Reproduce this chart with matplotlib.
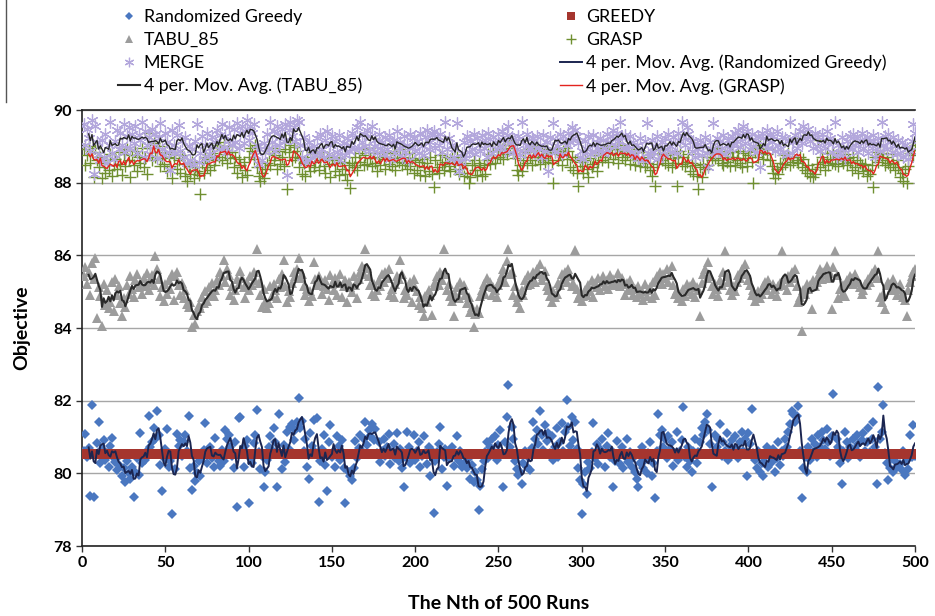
"""Objective values over 500 runs for five heuristics with 4-period moving averages."""

import matplotlib

matplotlib.use("Agg")
import matplotlib.pyplot as plt
import numpy as np
from matplotlib.lines import Line2D

plt.rcParams["font.family"] = ["Lato", "DejaVu Sans"]

runs = np.arange(1, 501)
greedy_value = 80.52
ma_period = 4

randomized_greedy = [
    80.62, 81.08, 80.45, 80.71, 79.38, 81.88, 79.35, 80.52, 80.84, 81.42,
    80.28, 80.66, 80.91, 80.37, 80.55, 80.18, 80.74, 80.96, 80.42, 80.31,
    80.08, 80.47, 80.21, 79.92, 80.15, 79.76, 80.33, 80.02, 79.85, 80.18,
    79.35, 80.05, 80.41, 79.95, 81.12, 80.28, 80.51, 80.36, 80.62, 81.58,
    80.72, 80.85, 81.25, 80.94, 81.72, 81.05, 80.23, 79.52, 80.41, 80.66,
    81.22, 80.18, 80.35, 78.88, 80.51, 80.12, 81.08, 80.74, 80.92, 80.48,
    80.85, 81.05, 80.62, 81.58, 80.15, 79.55, 80.21, 79.78, 80.02, 80.34,
    79.92, 80.45, 80.63, 81.38, 80.28, 80.55, 80.72, 80.41, 80.18, 80.97,
    80.52, 80.35, 80.21, 80.64, 80.33, 81.18, 80.94, 81.05, 80.72, 80.48,
    80.15, 80.85, 79.08, 81.52, 81.55, 80.62, 80.18, 80.75, 80.92, 79.18,
    80.41, 80.28, 80.83, 81.05, 81.75, 80.58, 80.11, 80.47, 79.62, 80.05,
    80.38, 80.72, 81.02, 80.65, 81.24, 80.85, 79.62, 81.62, 80.55, 80.12,
    80.78, 80.32, 81.15, 80.68, 81.28, 81.35, 80.92, 81.18, 81.42, 82.08,
    81.25, 81.45, 80.62, 80.95, 80.18, 79.85, 81.12, 80.74, 81.48, 80.58,
    81.52, 79.22, 80.35, 80.68, 81.05, 80.22, 79.52, 80.85, 81.32, 80.44,
    80.61, 80.18, 81.02, 80.75, 80.36, 80.92, 80.15, 79.18, 80.52, 80.05,
    79.92, 79.82, 80.15, 80.88, 80.42, 80.71, 81.05, 80.62, 80.95, 81.42,
    80.78, 81.18, 81.02, 81.35, 80.92, 81.22, 80.55, 80.85, 80.32, 80.61,
    80.95, 80.48, 80.72, 81.08, 80.25, 80.58, 80.82, 80.41, 81.12, 80.35,
    80.68, 80.15, 79.62, 80.45, 81.15, 80.72, 80.28, 80.55, 81.05, 80.38,
    80.62, 80.85, 80.18, 80.48, 81.02, 80.55, 80.25, 80.72, 79.92, 80.61,
    78.92, 80.35, 80.58, 80.82, 81.28, 80.12, 80.45, 80.68, 79.65, 80.42,
    80.55, 80.72, 80.21, 80.48, 81.02, 80.35, 80.62, 80.18, 80.51, 80.28,
    80.15, 80.41, 79.85, 80.22, 79.75, 80.05, 79.82, 78.98, 79.65, 80.12,
    80.35, 80.58, 80.85, 80.42, 80.72, 80.95, 80.61, 81.02, 80.38, 80.78,
    81.18, 80.52, 79.62, 80.85, 81.55, 82.42, 80.72, 81.28, 80.95, 80.35,
    80.12, 79.95, 80.05, 79.72, 80.28, 80.62, 80.18, 80.45, 80.08, 80.71,
    81.42, 80.95, 81.18, 80.82, 81.72, 81.05, 80.65, 81.32, 80.88, 81.12,
    80.55, 81.02, 80.38, 80.72, 81.25, 80.45, 80.85, 81.38, 80.62, 81.15,
    82.02, 81.28, 80.75, 81.55, 80.92, 81.42, 80.68, 80.15, 79.82, 78.88,
    79.72, 80.05, 79.42, 80.32, 80.15, 80.58, 81.38, 80.42, 80.82, 80.25,
    80.68, 80.95, 80.52, 80.18, 80.75, 81.12, 80.45, 80.62, 79.62, 80.35,
    80.88, 80.52, 80.25, 80.72, 80.15, 80.48, 80.95, 80.32, 80.58, 80.18,
    80.42, 80.05, 79.85, 79.62, 80.28, 80.72, 80.15, 80.38, 80.02, 80.55,
    80.85, 79.92, 80.28, 79.32, 80.62, 81.62, 81.05, 81.18, 80.72, 80.95,
    80.42, 81.02, 80.68, 80.85, 80.21, 80.55, 81.15, 80.38, 80.62, 80.92,
    81.82, 80.45, 80.18, 80.72, 80.35, 80.05, 80.62, 80.95, 80.28, 80.58,
    80.85, 81.25, 81.05, 81.42, 81.62, 81.18, 80.82, 79.62, 80.55, 81.05,
    80.72, 80.95, 81.35, 80.48, 80.85, 80.62, 81.12, 80.38, 80.75, 80.92,
    80.55, 81.02, 80.68, 80.42, 80.85, 81.15, 80.62, 80.95, 79.92, 81.12,
    80.82, 81.78, 80.55, 80.38, 80.15, 80.62, 80.05, 80.28, 79.92, 80.45,
    80.72, 80.18, 80.55, 80.32, 80.68, 80.05, 80.42, 80.85, 80.22, 80.62,
    80.48, 80.95, 80.72, 81.15, 81.35, 81.72, 81.62, 81.42, 81.58, 81.85,
    80.62, 79.32, 80.15, 80.45, 80.05, 80.72, 80.38, 80.95, 80.58, 80.82,
    80.45, 81.05, 80.72, 81.15, 80.92, 80.68, 81.22, 80.85, 80.48, 81.02,
    82.18, 80.55, 80.95, 80.72, 80.28, 79.72, 80.62, 81.15, 80.85, 80.42,
    80.72, 80.55, 80.95, 80.68, 81.05, 80.82, 80.45, 80.92, 81.12, 80.62,
    80.85, 81.25, 80.58, 80.95, 81.42, 80.72, 79.72, 82.38, 80.95, 81.15,
    81.88, 80.55, 80.28, 79.82, 80.15, 80.42, 80.05, 80.35, 80.18, 80.52,
    80.25, 80.08, 80.62, 79.95, 80.38, 80.12, 81.05, 80.45, 81.32, 80.48,
]

tabu_85 = [
    85.42, 85.68, 85.21, 85.55, 84.92, 85.78, 85.35, 85.92, 84.28, 85.12,
    84.88, 84.05, 85.22, 84.62, 85.05, 84.55, 84.72, 85.28, 84.48, 85.35,
    84.92, 85.15, 84.68, 84.32, 84.82, 84.58, 85.18, 84.95, 85.42, 85.08,
    84.85, 85.32, 85.48, 85.12, 85.25, 84.95, 85.38, 85.15, 85.52, 85.05,
    85.28, 85.45, 85.18, 85.98, 85.62, 85.35, 84.88, 85.12, 84.75, 85.22,
    84.95, 85.32, 85.08, 85.48, 84.78, 85.42, 85.55, 85.18, 84.92, 85.25,
    84.82, 85.05, 84.65, 84.58, 84.72, 84.02, 84.35, 84.12, 84.48, 84.62,
    84.55, 84.85, 84.68, 85.02, 84.75, 85.12, 84.92, 85.25, 84.88, 85.05,
    85.32, 85.18, 85.55, 85.42, 85.88, 85.28, 85.62, 85.45, 84.92, 85.15,
    84.78, 85.05, 85.35, 85.22, 85.58, 85.38, 85.12, 84.82, 85.28, 85.05,
    85.42, 85.18, 85.55, 85.32, 86.18, 85.25, 84.92, 84.58, 85.08, 84.72,
    84.55, 84.68, 85.15, 84.88, 85.22, 85.05, 84.82, 85.35, 85.12, 85.48,
    85.88, 85.15, 84.72, 85.02, 84.85, 85.25, 85.55, 85.42, 85.62, 85.92,
    85.38, 85.48, 85.15, 84.92, 85.08, 84.75, 85.02, 84.88, 85.82, 85.35,
    85.18, 85.42, 85.28, 84.95, 85.15, 85.32, 85.08, 84.78, 85.45, 85.22,
    85.05, 85.38, 84.92, 85.25, 85.48, 84.85, 85.15, 85.32, 84.72, 85.28,
    85.12, 84.98, 85.42, 85.18, 84.82, 85.35, 85.55, 85.72, 85.48, 86.18,
    85.65, 85.42, 85.18, 84.95, 85.22, 84.88, 85.05, 85.32, 85.15, 85.48,
    85.28, 85.55, 85.38, 85.62, 84.92, 85.08, 84.85, 85.22, 85.42, 85.35,
    85.88, 85.48, 84.82, 85.05, 84.92, 85.18, 85.28, 84.72, 85.35, 85.12,
    85.02, 84.62, 84.85, 84.55, 84.32, 84.88, 84.72, 85.05, 84.92, 84.35,
    85.15, 85.28, 85.42, 85.18, 85.55, 85.32, 86.18, 85.48, 85.05, 85.22,
    84.88, 84.75, 84.32, 84.95, 85.12, 84.82, 85.28, 85.05, 85.18, 84.92,
    84.68, 84.85, 84.45, 84.58, 84.02, 84.38, 84.52, 84.42, 84.88, 85.05,
    85.22, 84.95, 85.38, 85.15, 85.28, 84.92, 85.12, 85.05, 84.85, 85.18,
    85.32, 85.45, 85.62, 85.28, 85.85, 86.18, 85.48, 85.55, 84.92, 85.15,
    84.72, 84.85, 84.55, 85.05, 84.92, 85.32, 85.18, 85.45, 85.22, 85.38,
    85.55, 85.28, 85.62, 85.48, 85.75, 85.32, 85.42, 85.58, 85.15, 85.05,
    84.88, 84.72, 85.02, 84.85, 84.95, 85.25, 85.18, 85.48, 85.35, 85.55,
    85.28, 85.62, 85.42, 85.15, 85.25, 86.15, 85.08, 84.82, 84.95, 84.75,
    84.88, 85.05, 84.92, 85.18, 85.02, 85.32, 84.85, 85.25, 85.12, 85.38,
    85.05, 85.28, 85.42, 85.15, 85.32, 85.08, 85.45, 85.22, 85.35, 85.18,
    85.28, 85.52, 85.15, 85.38, 85.22, 84.92, 85.25, 85.05, 85.32, 85.12,
    84.92, 85.08, 84.85, 85.15, 84.95, 85.02, 84.78, 85.22, 84.88, 85.05,
    85.12, 84.82, 85.28, 84.92, 85.42, 85.35, 85.55, 85.22, 85.48, 85.38,
    85.62, 85.28, 85.45, 85.72, 85.18, 84.95, 85.05, 84.82, 84.92, 84.75,
    85.08, 84.88, 85.22, 85.02, 85.15, 84.95, 85.28, 84.85, 85.12, 85.05,
    84.32, 85.25, 85.48, 85.62, 85.38, 85.82, 85.42, 85.15, 84.95, 85.22,
    85.08, 84.88, 85.32, 85.18, 85.55, 86.12, 85.42, 85.28, 85.05, 84.92,
    85.15, 85.02, 85.28, 85.45, 85.38, 85.62, 85.52, 85.75, 85.48, 85.32,
    85.18, 84.92, 85.05, 84.75, 84.88, 85.02, 84.82, 84.95, 85.15, 85.28,
    85.05, 85.32, 85.18, 84.95, 85.22, 85.08, 84.88, 85.15, 85.25, 86.12,
    85.18, 85.35, 85.05, 85.42, 85.28, 85.55, 85.38, 85.62, 85.15, 84.72,
    84.85, 83.92, 85.05, 84.95, 85.22, 85.08, 85.18, 84.52, 85.32, 85.15,
    85.28, 85.42, 85.62, 85.35, 85.55, 85.48, 85.72, 85.38, 85.52, 84.52,
    85.68, 86.12, 85.45, 84.82, 85.08, 84.92, 85.18, 84.88, 85.32, 85.25,
    85.42, 85.38, 85.22, 85.48, 85.35, 85.28, 85.12, 84.95, 85.05, 85.22,
    85.18, 85.35, 85.28, 85.52, 85.42, 85.62, 85.38, 86.12, 84.85, 84.72,
    84.95, 84.52, 85.18, 85.28, 85.22, 85.05, 85.35, 85.15, 84.92, 85.08,
    85.22, 84.95, 84.85, 84.78, 84.32, 85.05, 85.28, 85.42, 85.55, 85.62,
]

grasp = [
    88.92, 88.48, 88.75, 89.02, 88.55, 88.85, 88.15, 88.95, 88.62, 88.42,
    88.72, 88.12, 88.55, 88.28, 88.62, 88.35, 88.78, 88.18, 88.48, 88.65,
    88.38, 88.85, 88.52, 88.22, 88.78, 88.45, 88.92, 88.62, 88.15, 88.75,
    88.48, 88.88, 88.32, 88.72, 88.55, 88.95, 88.42, 88.68, 88.25, 89.38,
    88.95, 88.62, 89.08, 88.72, 88.85, 89.02, 88.45, 88.68, 88.52, 88.78,
    88.32, 88.72, 88.45, 88.12, 88.68, 88.85, 88.38, 88.62, 88.28, 88.75,
    88.52, 88.18, 88.05, 88.45, 88.25, 88.58, 88.12, 88.42, 88.32, 88.22,
    87.68, 88.55, 88.28, 88.72, 88.42, 88.65, 88.35, 88.82, 88.48, 88.62,
    89.05, 88.72, 88.95, 88.62, 89.12, 88.78, 88.55, 89.02, 88.68, 88.85,
    88.42, 88.72, 88.28, 88.65, 88.48, 88.15, 88.58, 88.35, 88.22, 88.72,
    88.95, 88.88, 88.65, 89.05, 88.42, 88.18, 88.05, 88.28, 88.12, 88.38,
    88.55, 88.82, 88.48, 88.95, 88.62, 88.75, 88.38, 88.88, 88.52, 88.72,
    88.45, 88.92, 87.82, 88.85, 89.05, 88.62, 88.98, 88.72, 88.88, 88.42,
    88.68, 88.25, 88.55, 88.18, 88.72, 88.48, 88.32, 88.85, 88.42, 88.58,
    88.78, 88.35, 88.62, 88.85, 88.45, 88.28, 88.72, 88.52, 88.15, 88.62,
    88.72, 88.32, 88.55, 88.22, 88.68, 88.38, 88.58, 88.25, 88.08, 88.48,
    87.85, 88.55, 88.42, 88.72, 88.35, 88.82, 88.58, 88.92, 88.48, 88.75,
    88.52, 88.95, 88.68, 88.45, 88.82, 88.55, 88.32, 88.72, 88.48, 88.85,
    88.65, 88.38, 88.82, 88.52, 88.72, 88.45, 88.88, 88.35, 88.68, 88.58,
    88.92, 88.48, 88.72, 88.55, 88.38, 88.82, 88.45, 88.68, 88.28, 88.62,
    88.35, 88.58, 88.22, 88.65, 88.42, 88.18, 88.55, 88.32, 88.72, 88.25,
    87.88, 88.62, 88.42, 88.28, 88.75, 88.52, 88.35, 88.58, 88.72, 88.45,
    88.32, 88.68, 88.55, 88.38, 88.72, 88.25, 88.62, 88.48, 88.18, 88.55,
    88.28, 87.98, 88.15, 88.48, 88.62, 88.35, 88.22, 88.55, 88.42, 88.18,
    88.48, 88.25, 88.62, 88.78, 88.52, 88.68, 88.88, 88.55, 88.72, 88.95,
    88.72, 88.92, 88.65, 89.05, 88.78, 89.18, 88.95, 89.12, 88.82, 88.68,
    88.35, 88.22, 88.48, 88.32, 88.62, 88.85, 88.55, 88.92, 88.72, 88.48,
    88.95, 88.62, 89.02, 88.72, 88.52, 88.88, 88.68, 88.58, 88.92, 88.62,
    88.82, 88.55, 87.98, 88.85, 88.92, 88.62, 88.78, 88.48, 88.88, 88.95,
    88.65, 88.88, 88.42, 88.72, 88.35, 88.62, 88.28, 87.92, 88.58, 88.45,
    88.28, 88.62, 88.38, 88.15, 88.68, 88.42, 88.52, 88.75, 88.32, 88.58,
    88.85, 88.62, 88.95, 88.72, 89.02, 88.58, 88.82, 88.92, 88.65, 88.78,
    88.92, 88.55, 89.05, 88.72, 88.88, 88.62, 88.78, 88.95, 88.52, 88.82,
    88.72, 88.48, 88.92, 88.62, 88.45, 88.85, 88.68, 88.42, 88.55, 88.72,
    88.35, 88.18, 88.42, 87.92, 88.52, 88.78, 88.92, 88.62, 88.82, 88.55,
    88.75, 88.48, 88.82, 88.42, 88.68, 88.55, 87.92, 88.72, 88.88, 88.52,
    88.72, 88.45, 88.58, 88.78, 88.32, 88.55, 88.25, 88.48, 88.18, 87.82,
    88.42, 88.15, 88.52, 88.38, 88.72, 88.48, 88.85, 88.62, 88.92, 88.68,
    88.95, 88.62, 88.88, 88.55, 88.48, 88.82, 88.58, 88.72, 88.45, 88.85,
    88.72, 88.48, 88.62, 88.88, 88.55, 88.42, 88.82, 88.68, 88.45, 88.75,
    88.88, 88.58, 87.98, 88.85, 88.95, 88.72, 89.05, 88.82, 88.65, 88.92,
    88.78, 88.92, 88.62, 88.45, 88.28, 88.12, 88.38, 88.25, 88.55, 88.42,
    88.75, 88.52, 88.68, 88.82, 88.48, 88.72, 88.58, 89.22, 88.62, 88.55,
    88.72, 88.42, 88.65, 88.35, 88.28, 88.48, 88.18, 88.38, 88.15, 88.25,
    88.52, 89.18, 88.42, 88.72, 88.58, 88.35, 88.82, 88.48, 88.65, 88.55,
    88.82, 88.52, 88.72, 88.45, 88.88, 88.62, 88.55, 88.78, 88.48, 88.68,
    88.58, 88.35, 88.72, 88.42, 88.62, 88.28, 88.55, 88.48, 88.32, 88.52,
    88.18, 88.35, 88.25, 88.48, 87.88, 88.72, 88.85, 88.58, 88.78, 88.62,
    88.82, 88.48, 88.72, 88.55, 88.42, 88.78, 88.52, 88.35, 88.62, 88.42,
    88.15, 88.28, 88.05, 88.38, 87.98, 88.45, 88.82, 88.92, 88.75, 89.05,
]

merge = [
    89.62, 89.05, 89.48, 89.22, 88.88, 89.72, 88.25, 89.55, 89.12, 88.78,
    88.62, 89.18, 88.72, 89.35, 88.55, 89.05, 89.68, 88.82, 88.65, 89.15,
    89.45, 88.92, 89.38, 89.05, 89.62, 88.85, 89.28, 89.52, 88.95, 89.35,
    89.08, 89.55, 88.82, 89.32, 89.18, 89.68, 88.72, 89.42, 89.05, 89.25,
    88.78, 89.48, 89.02, 89.35, 88.68, 89.22, 89.65, 88.92, 88.75, 89.38,
    89.12, 88.85, 88.35, 89.45, 89.05, 88.82, 89.32, 89.58, 88.88, 89.15,
    88.72, 89.25, 88.55, 89.02, 88.62, 88.92, 88.48, 89.15, 89.62, 88.58,
    88.82, 89.28, 88.65, 89.05, 89.38, 88.78, 88.95, 89.25, 88.72, 89.12,
    89.45, 88.92, 89.32, 89.62, 88.98, 89.28, 88.85, 89.52, 89.18, 89.05,
    89.48, 89.12, 89.65, 88.95, 89.38, 89.55, 89.08, 89.42, 89.72, 89.18,
    89.55, 89.38, 89.62, 88.75, 89.05, 88.52, 88.92, 88.62, 89.08, 88.85,
    89.35, 88.95, 89.68, 89.12, 89.42, 88.88, 89.55, 89.05, 89.28, 89.48,
    89.15, 89.62, 88.22, 89.45, 89.68, 89.28, 89.52, 89.15, 89.72, 89.68,
    89.05, 88.72, 89.25, 88.58, 88.95, 89.12, 88.62, 88.85, 89.02, 88.75,
    89.22, 88.82, 89.35, 88.92, 88.68, 89.18, 89.42, 88.78, 89.05, 89.28,
    88.72, 89.15, 88.85, 89.32, 88.62, 88.95, 89.08, 88.75, 89.22, 88.88,
    89.05, 89.38, 88.92, 89.25, 89.52, 88.95, 89.68, 89.12, 89.35, 89.02,
    89.45, 88.88, 89.28, 89.55, 89.02, 89.18, 88.82, 89.35, 88.95, 89.12,
    88.78, 89.25, 88.92, 89.32, 88.65, 89.08, 89.18, 88.82, 89.42, 88.95,
    89.12, 88.72, 89.28, 88.85, 89.05, 88.62, 89.35, 88.98, 89.22, 88.88,
    89.15, 88.82, 89.38, 89.02, 88.75, 89.25, 89.45, 88.92, 89.12, 89.32,
    89.42, 88.95, 89.28, 89.05, 89.35, 88.85, 89.18, 89.68, 88.92, 89.22,
    88.65, 89.05, 88.72, 88.95, 89.65, 88.32, 88.58, 88.82, 89.12, 88.68,
    89.28, 88.85, 89.15, 88.92, 89.35, 88.78, 89.22, 89.05, 88.88, 89.32,
    88.95, 89.18, 88.72, 89.38, 89.05, 88.82, 89.25, 89.12, 88.92, 89.35,
    89.02, 89.42, 89.18, 88.88, 89.32, 89.55, 89.08, 89.25, 88.82, 89.15,
    88.92, 89.28, 88.75, 89.68, 89.12, 88.85, 89.35, 89.02, 88.95, 89.22,
    89.15, 88.82, 89.28, 88.95, 89.05, 88.72, 89.32, 88.88, 89.12, 88.32,
    89.25, 88.92, 89.65, 88.85, 89.18, 89.02, 89.35, 88.78, 89.28, 89.15,
    89.05, 89.38, 89.12, 89.52, 89.22, 89.45, 89.28, 89.08, 88.72, 88.88,
    88.65, 89.15, 88.92, 89.28, 88.78, 89.05, 89.32, 88.85, 89.12, 88.95,
    89.22, 88.82, 89.18, 88.95, 89.35, 88.88, 89.12, 89.28, 89.45, 89.02,
    89.38, 89.15, 89.68, 89.25, 88.95, 89.32, 89.05, 88.92, 89.28, 88.85,
    89.12, 88.75, 89.05, 88.68, 89.22, 88.92, 88.62, 89.15, 89.65, 88.82,
    88.72, 89.18, 88.85, 89.02, 89.28, 88.65, 88.95, 89.12, 88.78, 89.22,
    88.92, 89.35, 89.02, 88.85, 89.25, 89.08, 88.82, 89.38, 89.15, 89.68,
    89.28, 89.05, 89.52, 89.35, 89.12, 88.88, 89.15, 88.72, 89.05, 88.92,
    89.18, 88.75, 89.02, 89.25, 88.82, 88.42, 89.12, 88.92, 89.65, 88.85,
    89.22, 88.88, 89.15, 88.95, 89.32, 88.78, 89.05, 89.18, 88.92, 89.28,
    89.05, 89.38, 89.15, 89.45, 88.98, 89.32, 89.55, 89.08, 89.42, 89.25,
    88.92, 89.35, 89.02, 89.18, 88.85, 89.28, 88.42, 89.38, 89.22, 89.05,
    89.45, 88.95, 89.32, 89.12, 89.28, 88.88, 89.42, 89.05, 88.92, 89.25,
    88.85, 89.22, 88.75, 89.15, 89.68, 88.82, 89.12, 89.32, 88.95, 89.18,
    89.42, 89.08, 89.55, 89.22, 89.35, 89.48, 89.15, 89.28, 88.95, 89.38,
    89.02, 89.25, 88.88, 89.35, 89.18, 88.95, 89.42, 89.08, 89.22, 88.85,
    89.12, 89.68, 88.72, 89.05, 88.82, 89.25, 88.92, 88.68, 89.15, 88.95,
    89.28, 88.92, 89.35, 89.05, 89.22, 88.85, 89.18, 89.38, 88.95, 89.12,
    89.25, 88.82, 89.15, 88.95, 89.32, 88.72, 89.08, 89.22, 88.88, 89.68,
    89.05, 89.28, 88.92, 89.35, 89.12, 88.85, 89.25, 89.02, 88.78, 89.18,
    88.82, 89.12, 88.72, 89.05, 88.95, 88.65, 88.88, 89.15, 89.62, 89.38,
]


def moving_average(values, period):
    """Trailing moving average, undefined for the first period - 1 runs."""
    values = np.asarray(values, dtype=float)
    averaged = np.full(values.shape, np.nan)
    kernel = np.ones(period) / period
    averaged[period - 1:] = np.convolve(values, kernel, mode="valid")
    return averaged


figure = plt.figure(figsize=(9.35, 6.16), dpi=100)
axis = figure.add_axes([0.0877, 0.1136, 0.8909, 0.7078])

rg_handle, = axis.plot(
    runs, randomized_greedy, linestyle="none", marker="D", markersize=5.6,
    color="#4A77C0", markeredgewidth=0, label="Randomized Greedy", zorder=3,
)
greedy_handle, = axis.plot(
    runs, np.full(runs.shape, greedy_value), linestyle="none", marker="s",
    markersize=6.6, color="#A5352E", markeredgewidth=0, label="GREEDY",
    zorder=4,
)
tabu_handle, = axis.plot(
    runs, tabu_85, linestyle="none", marker="^", markersize=7.8,
    color="#9C9C9C", markeredgewidth=0, label="TABU_85", zorder=3,
)
grasp_handle, = axis.plot(
    runs, grasp, linestyle="none", marker="+", markersize=8.4,
    color="#6F8F30", markeredgewidth=1.0, label="GRASP", zorder=3,
)
merge_handle, = axis.plot(
    runs, merge, linestyle="none", marker=(6, 2, 0), markersize=8.6,
    color="#B3A7DC", markeredgewidth=0.9, label="MERGE", zorder=3,
)

rg_ma, = axis.plot(
    runs, moving_average(randomized_greedy, ma_period), color="#1B2550",
    linewidth=1.4, label="4 per. Mov. Avg. (Randomized Greedy)", zorder=5,
)
tabu_ma, = axis.plot(
    runs, moving_average(tabu_85, ma_period), color="#2A2A2A",
    linewidth=1.5, label="4 per. Mov. Avg. (TABU_85)", zorder=5,
)
grasp_ma, = axis.plot(
    runs, moving_average(grasp, ma_period), color="#E3231E",
    linewidth=1.0, label="4 per. Mov. Avg. (GRASP)", zorder=5,
)
axis.plot(
    runs, moving_average(merge, ma_period), color="#262626",
    linewidth=1.0, zorder=5,
)

axis.set_xlim(0, 500)
axis.set_ylim(78, 90)
axis.set_xticks(np.arange(0, 501, 50))
axis.set_yticks(np.arange(78, 91, 2))
axis.yaxis.grid(True, color="#A6A6A6", linewidth=1.0)
axis.set_axisbelow(True)
axis.tick_params(
    axis="both", direction="out", length=4, width=1.0, labelsize=11.5,
    color="#333333",
)
for label in axis.get_xticklabels() + axis.get_yticklabels():
    label.set_fontweight("bold")

axis.spines["right"].set_visible(False)
for side in ("left", "bottom", "top"):
    axis.spines[side].set_color("#222222")
    axis.spines[side].set_linewidth(1.2)

axis.set_xlabel("The Nth of 500 Runs", fontsize=14, fontweight="bold",
                labelpad=18)
axis.set_ylabel("Objective", fontsize=14, fontweight="bold", labelpad=16)

legend_style = dict(
    frameon=False, fontsize=12.8, handlelength=1.24, handletextpad=0.2,
    labelspacing=0.38, borderaxespad=0.0, borderpad=0.0, markerscale=0.8,
)
figure.legend(
    handles=[rg_handle, tabu_handle, merge_handle, tabu_ma],
    loc="upper left", bbox_to_anchor=(0.1262, 0.985), **legend_style,
)
figure.legend(
    handles=[greedy_handle, grasp_handle, rg_ma, grasp_ma],
    loc="upper left", bbox_to_anchor=(0.599, 0.985), **legend_style,
)

figure.add_artist(Line2D([0.006, 0.006], [0.835, 1.0],
                         transform=figure.transFigure, color="#555555",
                         linewidth=1.0))

figure.savefig("out.png", dpi=100)
